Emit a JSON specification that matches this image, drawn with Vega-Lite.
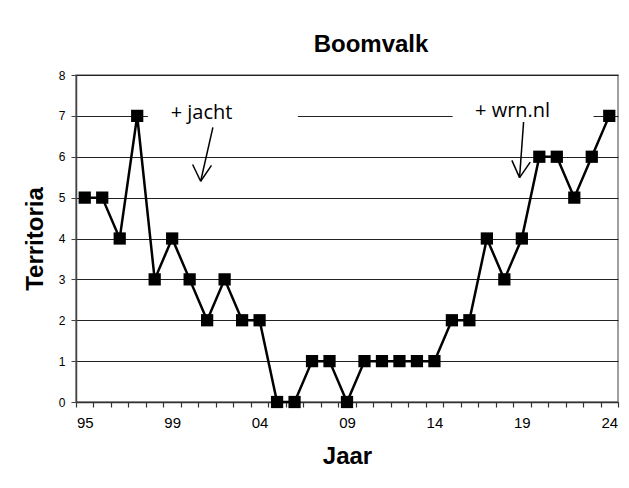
{
  "$schema": "https://vega.github.io/schema/vega-lite/v6.json",
  "autosize": "none",
  "width": 542,
  "height": 327,
  "padding": {"left": 76, "top": 75, "right": 11, "bottom": 86},
  "background": "white",
  "title": {
    "text": "Boomvalk",
    "font": "Liberation Sans",
    "fontSize": 24,
    "fontWeight": "bold",
    "color": "black",
    "frame": "group",
    "anchor": "middle",
    "baseline": "alphabetic",
    "offset": -7,
    "dx": 24
  },
  "config": {
    "view": {"stroke": "#808080", "strokeWidth": 1.5},
    "axis": {"labelFont": "Liberation Sans", "titleFont": "Liberation Sans", "labelColor": "black", "titleColor": "black"}
  },
  "data": {
    "values": [
      {"i": 1, "n": 5}, {"i": 2, "n": 5}, {"i": 3, "n": 4}, {"i": 4, "n": 7}, {"i": 5, "n": 3},
      {"i": 6, "n": 4}, {"i": 7, "n": 3}, {"i": 8, "n": 2}, {"i": 9, "n": 3}, {"i": 10, "n": 2},
      {"i": 11, "n": 2}, {"i": 12, "n": 0}, {"i": 13, "n": 0}, {"i": 14, "n": 1}, {"i": 15, "n": 1},
      {"i": 16, "n": 0}, {"i": 17, "n": 1}, {"i": 18, "n": 1}, {"i": 19, "n": 1}, {"i": 20, "n": 1},
      {"i": 21, "n": 1}, {"i": 22, "n": 2}, {"i": 23, "n": 2}, {"i": 24, "n": 4}, {"i": 25, "n": 3},
      {"i": 26, "n": 4}, {"i": 27, "n": 6}, {"i": 28, "n": 6}, {"i": 29, "n": 5}, {"i": 30, "n": 6},
      {"i": 31, "n": 7}
    ]
  },
  "layer": [
    {
      "mark": {"type": "line", "color": "black", "strokeWidth": 2.5},
      "encoding": {
        "x": {
          "field": "i", "type": "quantitative",
          "scale": {"domain": [0.5, 31.5], "nice": false, "zero": false},
          "axis": {
            "values": [0.5, 1.5, 2.5, 3.5, 4.5, 5.5, 6.5, 7.5, 8.5, 9.5, 10.5, 11.5, 12.5, 13.5, 14.5, 15.5, 16.5, 17.5, 18.5, 19.5, 20.5, 21.5, 22.5, 23.5, 24.5, 25.5, 26.5, 27.5, 28.5, 29.5, 30.5, 31.5],
            "tickCount": 100,
            "labelExpr": "datum.value == 0.5 ? '95' : datum.value == 5.5 ? '99' : datum.value == 10.5 ? '04' : datum.value == 15.5 ? '09' : datum.value == 20.5 ? '14' : datum.value == 25.5 ? '19' : datum.value == 30.5 ? '24' : ''",
            "labelOffset": 8.74,
            "labelFlush": false,
            "labelOverlap": false,
            "labelBound": false,
            "ticks": true,
            "tickSize": 5,
            "tickColor": "#333",
            "tickWidth": 1.2,
            "domain": true,
            "domainColor": "#333",
            "domainWidth": 1.5,
            "grid": false,
            "labelFontSize": 15,
            "labelPadding": 8,
            "title": "Jaar",
            "titleFontSize": 24,
            "titleFontWeight": "bold",
            "titlePadding": 14
          }
        },
        "y": {
          "field": "n", "type": "quantitative",
          "scale": {"domain": [0, 8], "nice": false},
          "axis": {
            "values": [0, 1, 2, 3, 4, 5, 6, 7, 8],
            "grid": true,
            "gridColor": "#222",
            "gridWidth": 1,
            "domainColor": "#444",
            "domainWidth": 1.5,
            "tickColor": "#444",
            "tickSize": 5,
            "labelFontSize": 12,
            "labelPadding": 6,
            "title": "Territoria",
            "titleFontSize": 24,
            "titleFontWeight": "bold",
            "titlePadding": 11
          }
        }
      }
    },
    {
      "data": {"values": [{}]},
      "mark": {"type": "rect", "color": "white"},
      "encoding": {
        "x": {"datum": 4.61, "type": "quantitative"},
        "x2": {"datum": 13.19},
        "y": {"datum": 6.85, "type": "quantitative"},
        "y2": {"datum": 7.25}
      }
    },
    {
      "data": {"values": [{}]},
      "mark": {"type": "rect", "color": "white"},
      "encoding": {
        "x": {"datum": 22.04, "type": "quantitative"},
        "x2": {"datum": 30.1},
        "y": {"datum": 6.85, "type": "quantitative"},
        "y2": {"datum": 7.25}
      }
    },
    {
      "data": {"values": [{}]},
      "mark": {"type": "text", "text": "+ jacht", "font": "Open Sans", "fontSize": 20, "color": "black", "align": "center", "baseline": "middle"},
      "encoding": {
        "x": {"datum": 7.68, "type": "quantitative"},
        "y": {"datum": 7.08, "type": "quantitative"}
      }
    },
    {
      "data": {"values": [{}]},
      "mark": {"type": "text", "text": "+ wrn.nl", "font": "Open Sans", "fontSize": 20, "color": "black", "align": "center", "baseline": "middle"},
      "encoding": {
        "x": {"datum": 25.47, "type": "quantitative"},
        "y": {"datum": 7.13, "type": "quantitative"}
      }
    },
    {
      "data": {"values": [{}]},
      "mark": {"type": "rule", "color": "black", "strokeWidth": 1.5},
      "encoding": {
        "x": {"datum": 8.33, "type": "quantitative"},
        "y": {"datum": 6.72, "type": "quantitative"},
        "x2": {"datum": 7.63},
        "y2": {"datum": 5.4}
      }
    },
    {
      "data": {"values": [{}]},
      "mark": {"type": "rule", "color": "black", "strokeWidth": 1.5},
      "encoding": {
        "x": {"datum": 7.17, "type": "quantitative"},
        "y": {"datum": 5.81, "type": "quantitative"},
        "x2": {"datum": 7.63},
        "y2": {"datum": 5.4}
      }
    },
    {
      "data": {"values": [{}]},
      "mark": {"type": "rule", "color": "black", "strokeWidth": 1.5},
      "encoding": {
        "x": {"datum": 8.25, "type": "quantitative"},
        "y": {"datum": 5.79, "type": "quantitative"},
        "x2": {"datum": 7.63},
        "y2": {"datum": 5.4}
      }
    },
    {
      "data": {"values": [{}]},
      "mark": {"type": "rule", "color": "black", "strokeWidth": 1.5},
      "encoding": {
        "x": {"datum": 26.1, "type": "quantitative"},
        "y": {"datum": 6.85, "type": "quantitative"},
        "x2": {"datum": 25.87},
        "y2": {"datum": 5.49}
      }
    },
    {
      "data": {"values": [{}]},
      "mark": {"type": "rule", "color": "black", "strokeWidth": 1.5},
      "encoding": {
        "x": {"datum": 25.43, "type": "quantitative"},
        "y": {"datum": 5.91, "type": "quantitative"},
        "x2": {"datum": 25.87},
        "y2": {"datum": 5.49}
      }
    },
    {
      "data": {"values": [{}]},
      "mark": {"type": "rule", "color": "black", "strokeWidth": 1.5},
      "encoding": {
        "x": {"datum": 26.48, "type": "quantitative"},
        "y": {"datum": 5.87, "type": "quantitative"},
        "x2": {"datum": 25.87},
        "y2": {"datum": 5.49}
      }
    },
    {
      "mark": {"type": "point", "shape": "square", "filled": true, "color": "black", "size": 150, "opacity": 1},
      "encoding": {
        "x": {"field": "i", "type": "quantitative"},
        "y": {"field": "n", "type": "quantitative"}
      }
    }
  ]
}
